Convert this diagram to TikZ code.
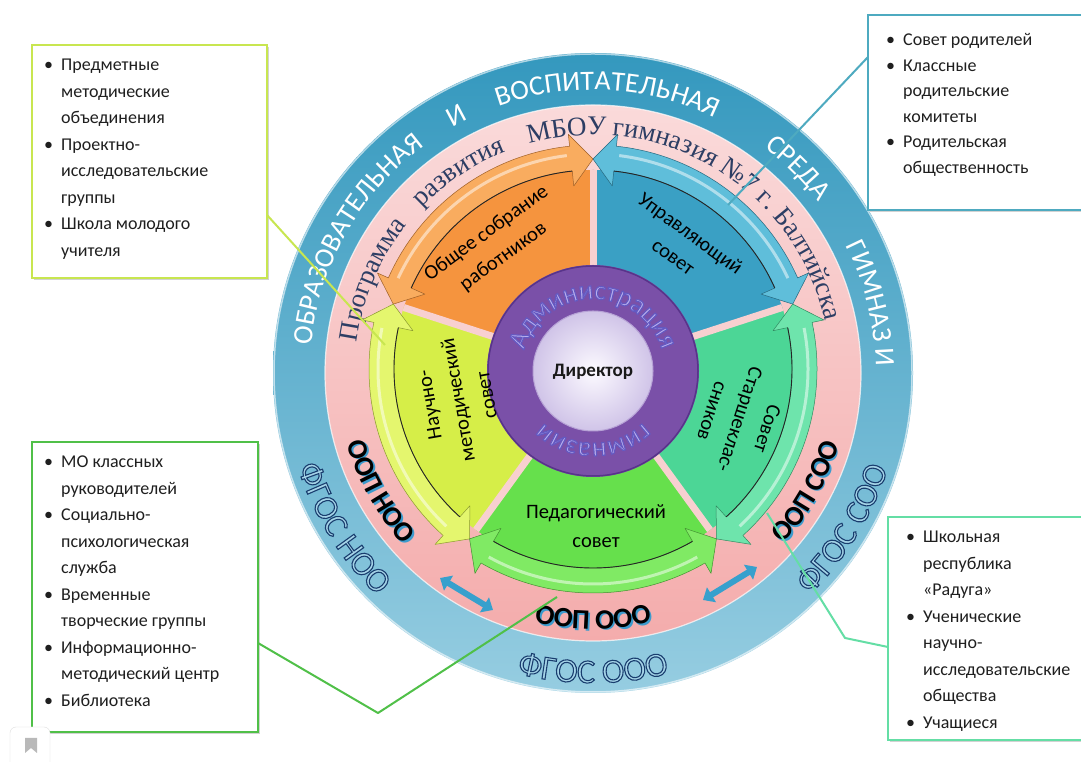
\documentclass[tikz,border=0pt]{standalone}
\usepackage{fontspec}
\newfontfamily\carl{Carlito}
\newfontfamily\serifL{Liberation Serif}
\usetikzlibrary{decorations.text,arrows.meta,shadows,fit}

\definecolor{ringblueT}{RGB}{52,152,190}
\definecolor{ringblueB}{RGB}{150,205,225}
\definecolor{pinkT}{RGB}{250,218,218}
\definecolor{pinkB}{RGB}{244,172,172}
\definecolor{pinkgap}{RGB}{248,208,208}
\definecolor{ringtxt}{RGB}{45,62,100}
\definecolor{fgosfill}{RGB}{165,212,232}
\definecolor{oopshadow}{RGB}{60,155,205}
\definecolor{purp}{RGB}{122,80,168}
\definecolor{purpdark}{RGB}{88,52,138}
\definecolor{admfill}{RGB}{185,175,238}
\definecolor{ctrin}{RGB}{252,250,255}
\definecolor{ctrout}{RGB}{208,196,232}
\definecolor{bluW}{RGB}{58,160,196}
\definecolor{bluB}{RGB}{95,190,218}
\definecolor{oraW}{RGB}{245,148,62}
\definecolor{oraB}{RGB}{249,172,95}
\definecolor{yelW}{RGB}{214,238,72}
\definecolor{yelB}{RGB}{228,246,110}
\definecolor{grnW}{RGB}{102,224,76}
\definecolor{grnB}{RGB}{128,234,100}
\definecolor{tealW}{RGB}{76,214,150}
\definecolor{tealB}{RGB}{110,228,172}
\definecolor{limeC}{RGB}{200,230,80}
\definecolor{tealC}{RGB}{78,170,192}
\definecolor{greenC}{RGB}{80,192,72}
\definecolor{mintC}{RGB}{100,222,165}
\definecolor{arrowblue}{RGB}{55,160,205}

% outlined glyphs: fill with current colour, stroke with given RGB
\newcommand\olon[1]{\special{pdf:literal direct #1 RG 2 Tr 1.1 w}}
\newcommand\bluefont{\carl\fontsize{28}{28}\selectfont}
\newcommand\pinkfont{\serifL\fontsize{27}{27}\selectfont}
\newcommand\oopfont{\carl\bfseries\fontsize{28}{28}\selectfont}
\newcommand\fgosfont{\carl\fontsize{34}{34}\selectfont\olon{0.10 0.24 0.43}}
\newcommand\admfont{\carl\fontsize{27}{27}\selectfont\olon{0.39 0.35 0.76}}
\newcommand\bul{\makebox[17pt][l]{\textbullet}}
\newcommand\ind{\hspace*{17pt}}

% text on clockwise arc (tops outward)
\newcommand\cwtext[5]{%
  \path[decorate,decoration={text along path,text align=center,text color=#5,text={#4}}]
    ({#2+#3}:#1) arc[start angle={#2+#3}, end angle={#2-#3}, radius=#1];}
% text on counter-clockwise arc (tops inward)
\newcommand\ccwtext[5]{%
  \path[decorate,decoration={text along path,text align=center,text color=#5,text={#4}}]
    ({#2-#3}:#1) arc[start angle={#2-#3}, end angle={#2+#3}, radius=#1];}

\newcommand\segwedge[3]{%
  \fill[#3W] (#1:100) -- (#1:199) arc[start angle=#1, end angle=#2, radius=199] -- (#2:100) -- cycle;}
\newcommand\segband[3]{%
  \filldraw[#3B, draw=#3W!65!black, line width=0.5pt, line join=round]
    ({#1+6}:224) arc[start angle={#1+6}, end angle={#2-6}, radius=224]
    -- ({#2-6}:236) -- (#2:210) -- ({#2-6}:184) -- ({#2-6}:199)
    arc[start angle={#2-6}, end angle={#1+6}, radius=199]
    -- ({#1+6}:184) -- (#1:210) -- ({#1+6}:236) -- cycle;
  \draw[white, opacity=0.5, line width=3pt] ({#1+7}:215) arc[start angle={#1+7}, end angle={#2-7}, radius=215];
  \draw[black!85, line width=0.9pt] ({#1+6}:199) arc[start angle={#1+6}, end angle={#2-6}, radius=199];}

\begin{document}
\begin{tikzpicture}[x=1pt,y=1pt,
  boxframe/.style={draw=#1, line width=2.5pt, fill=white, rectangle, inner sep=0pt,
    drop shadow={opacity=0.35, shadow xshift=2pt, shadow yshift=-2pt}},
  boxtxt/.style={font=\carl\fontsize{18}{26.5}\selectfont, align=left, inner sep=0pt, text=black!88, anchor=north west},
  segtxt/.style={font=\carl\fontsize{20.5}{29}\selectfont, align=center, text=black, inner sep=0pt},
  link/.style={draw=#1, line width=2pt, line join=round},
  dblarrow/.style={draw=arrowblue, line width=6pt, {Triangle[width=17pt,length=10pt]}-{Triangle[width=17pt,length=10pt]}}
]
\useasboundingbox (0,0) rectangle (1081,762);
\fill[white] (0,0) rectangle (1081,762);
\coordinate (O) at (593,389);
\coordinate (S) at (593,393);
\coordinate (P) at (593,391);

% ---------- outer rings ----------
\begin{scope}[shift={(O)}]
  \shade[top color=ringblueT, bottom color=ringblueB] (0,0) circle[radius=320];
  \draw[white, opacity=0.6, line width=1.5pt] (0,0) circle[radius=319];
  \shade[top color=pinkT, bottom color=pinkB] (0,0) circle[radius=268];
  \draw[white, opacity=0.7, line width=1.2pt] (0,0) circle[radius=268];
  % blue ring words
  \cwtext{283}{150.5}{40}{|\bluefont|ОБРАЗОВАТЕЛЬНАЯ}{white}
  \cwtext{283}{118}{10}{|\bluefont|И}{white}
  \cwtext{283}{87}{40}{|\bluefont|ВОСПИТАТЕЛЬНАЯ}{white}
  \cwtext{283}{45}{20}{|\bluefont|СРЕДА}{white}
  \cwtext{283}{14}{25}{|\bluefont|ГИМНАЗ И}{white}
  % pink ring words
  \cwtext{238}{157}{25}{|\pinkfont|Программа}{ringtxt}
  \cwtext{238}{123.7}{25}{|\pinkfont|развития}{ringtxt}
  \cwtext{238}{96.2}{15}{|\pinkfont|МБОУ}{ringtxt}
  \cwtext{238}{49}{45}{|\pinkfont|гимназия №7 г. Балтийска}{ringtxt}
  % OOP words
  \begin{scope}[shift={(1.8,-1.8)}]
    \ccwtext{256}{209}{25}{|\oopfont|ООП НОО}{oopshadow}
    \ccwtext{256}{270}{25}{|\oopfont|ООП ООО}{oopshadow}
    \ccwtext{256}{331}{25}{|\oopfont|ООП СОО}{oopshadow}
  \end{scope}
  \ccwtext{256}{209}{25}{|\oopfont|ООП НОО}{black}
  \ccwtext{256}{270}{25}{|\oopfont|ООП ООО}{black}
  \ccwtext{256}{331}{25}{|\oopfont|ООП СОО}{black}
  % FGOS words (outlined)
  \ccwtext{310}{211.8}{25}{|\fgosfont|ФГОС НОО}{fgosfill}
  \ccwtext{310}{270}{25}{|\fgosfont|ФГОС ООО}{fgosfill}
  \ccwtext{310}{328.2}{25}{|\fgosfont|ФГОС СОО}{fgosfill}
\end{scope}

% ---------- segments ----------
\begin{scope}[shift={(S)}]
  \segwedge{18}{90}{blu}
  \segwedge{90}{162}{ora}
  \segwedge{162}{234}{yel}
  \segwedge{234}{306}{grn}
  \segwedge{306}{378}{teal}
  \foreach \b in {18,90,162,234,306}
    \draw[pinkgap, line width=7pt] (\b:100) -- (\b:199);
  \segband{18}{90}{blu}
  \segband{90}{162}{ora}
  \segband{162}{234}{yel}
  \segband{234}{306}{grn}
  \segband{306}{378}{teal}
\end{scope}

% ---------- centre ----------
\begin{scope}[shift={(P)}]
  \fill[purp] (0,0) circle[radius=106];
  \draw[purpdark, line width=1.5pt] (0,0) circle[radius=105];
  \shade[inner color=ctrin, outer color=ctrout] (0,0) circle[radius=60];
  \draw[ctrout!70!purp, line width=1pt] (0,0) circle[radius=60];
  \cwtext{72}{90}{80}{|\admfont|Администрация}{admfill}
  \cwtext{72}{270}{60}{|\admfont|гимназии}{admfill}
  \node[font=\carl\bfseries\fontsize{19}{19}\selectfont, text=black!90] (dir) at (0,-1) {Директор};
\end{scope}

% ---------- segment labels ----------
\node[segtxt, rotate=36] (tob) at (495,517) {Общее собрание\\работников};
\node[segtxt, rotate=-36] (tup) at (682,517) {Управляющий\\совет};
\node[segtxt, rotate=100] (tnm) at (458,362) {Научно-\\методический\\совет};
\node[segtxt] (tpd) at (596,236) {Педагогический\\совет};
\node[segtxt, rotate=-108] (tsv) at (740,342) {Совет\\Старшеклас-\\сников};

% ---------- small double arrows ----------
\coordinate (la1) at (440,184); \coordinate (la2) at (493,152);
\coordinate (ra1) at (757,195); \coordinate (ra2) at (703,162);
\draw[dblarrow] (la1) -- (la2);
\draw[dblarrow] (ra1) -- (ra2);

% ---------- callout boxes ----------
\node[boxframe=limeC, fit={(32,717) (267,484)}] (tlbox) {};
\node[boxframe=tealC, fit={(868,747) (1095,552)}] (trbox) {};
\node[boxframe=greenC, fit={(32,320) (258,30)}] (blbox) {};
\node[boxframe=mintC, fit={(888,245) (1095,22)}] (brbox) {};

\node[boxtxt] (tltxt) at (44,705.5) {\rule{0pt}{14pt}\bul Предметные\\ \ind методические\\ \ind объединения\\ \bul Проектно-\\ \ind исследовательские\\ \ind группы\\ \bul Школа молодого\\ \ind учителя};
\node[boxtxt, font=\carl\fontsize{18}{25.5}\selectfont] (trtxt) at (886,730.5) {\rule{0pt}{14pt}\bul Совет родителей\\ \bul Классные\\ \ind родительские\\ \ind комитеты\\ \bul Родительская\\ \ind общественность};
\node[boxtxt] (bltxt) at (44,308.5) {\rule{0pt}{14pt}\bul МО классных\\ \ind руководителей\\ \bul Социально-\\ \ind психологическая\\ \ind служба\\ \bul Временные\\ \ind творческие группы\\ \bul Информационно-\\ \ind методический центр\\ \bul Библиотека};
\node[boxtxt] (brtxt) at (906,233.5) {\rule{0pt}{14pt}\bul Школьная\\ \ind республика\\ \ind «Радуга»\\ \bul Ученические\\ \ind научно-\\ \ind исследовательские\\ \ind общества\\ \bul Учащиеся};

% ---------- connectors ----------
\coordinate (tlA) at (267,547); \coordinate (tlB) at (385,417);
\coordinate (trA) at (868,705); \coordinate (trB) at (728,557);
\coordinate (blA) at (258,119); \coordinate (blK) at (378,49); \coordinate (blB) at (557,165);
\coordinate (brA) at (888,115); \coordinate (brK) at (845,124); \coordinate (brB) at (767,249);
\draw[link=limeC] (tlA) -- (tlB);
\draw[link=tealC] (trA) -- (trB);
\draw[link=greenC] (blA) -- (blK) -- (blB);
\draw[link=mintC] (brA) -- (brK) -- (brB);

% ---------- bookmark icon ----------
\draw[gray!25, fill=white, rounded corners=6pt] (10,-10) rectangle (50,35);
\fill[gray!55] (25,24) -- (37,24) -- (37,9) -- (31,14) -- (25,9) -- cycle;
\end{tikzpicture}
\end{document}
